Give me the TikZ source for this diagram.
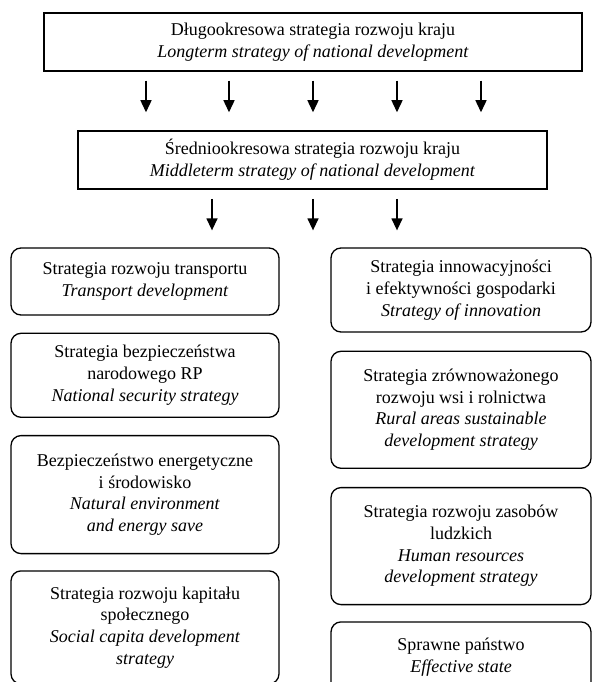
\documentclass[tikz,border=0pt]{standalone}
\usepackage{fontspec}
\setmainfont{Liberation Serif}
\usetikzlibrary{arrows.meta,positioning}

\begin{document}
\begin{tikzpicture}[x=1pt, y=-1pt,
    txt/.style={align=center, inner sep=0pt, font=\fontsize{18}{21.7}\selectfont},
    plan/.style={txt, draw, line width=1.5pt},
    part/.style={txt, draw, line width=1.3pt, rounded corners=10pt},
    arrow/.style={-{Triangle[length=12pt, width=11pt]}, line width=1.4pt},
    node distance=17pt
  ]
    \useasboundingbox (0,0) rectangle (592,682);
    % strategies of the country
    \node[plan, minimum width=538pt, minimum height=58pt] (long) at (313,42)
      {Długookresowa strategia rozwoju kraju\\\textit{Longterm strategy of national development}};
    \node[plan, minimum width=469pt, minimum height=58pt] (middle) at (312.5,160)
      {Średniookresowa strategia rozwoju kraju\\\textit{Middleterm strategy of national development}};
    % left column
    \node[part, minimum width=268pt, minimum height=67pt] (transport) at (145,281.5)
      {Strategia rozwoju transportu\\\textit{Transport development}};
    \node[part, minimum width=268pt, minimum height=84pt, below=of transport] (security)
      {Strategia bezpieczeństwa\\narodowego RP\\\textit{National security strategy}};
    \node[part, minimum width=268pt, minimum height=118pt, below=of security] (energy)
      {Bezpieczeństwo energetyczne\\i środowisko\\\textit{Natural environment}\\\textit{and energy save}};
    \node[part, minimum width=268pt, minimum height=113pt, below=16pt of energy] (social)
      {Strategia rozwoju kapitału\\społecznego\\\textit{Social capita development}\\\textit{strategy}};
    % right column
    \node[part, minimum width=260pt, minimum height=84pt] (innovation) at (461,290)
      {Strategia innowacyjności\\i efektywności gospodarki\\\textit{Strategy of innovation}};
    \node[part, minimum width=260pt, minimum height=117pt, below=18pt of innovation] (rural)
      {Strategia zrównoważonego\\rozwoju wsi i rolnictwa\\\textit{Rural areas sustainable}\\\textit{development strategy}};
    \node[part, minimum width=260pt, minimum height=117pt, below=18pt of rural] (human)
      {Strategia rozwoju zasobów\\ludzkich\\\textit{Human resources}\\\textit{development strategy}};
    \node[part, minimum width=260pt, minimum height=70pt, below=16pt of human] (state)
      {Sprawne państwo\\\textit{Effective state}};
    % arrows
    \foreach \x in {146,229,313,397,481}
      \draw[arrow, shorten <=9pt, shorten >=18pt] (long.south -| \x,0) -- (middle.north -| \x,0);
    \foreach \x in {212,313,397}
      \draw[arrow, shorten <=9pt, shorten >=17pt] (middle.south -| \x,0) -- (transport.north -| \x,0);
  \end{tikzpicture}
\end{document}
